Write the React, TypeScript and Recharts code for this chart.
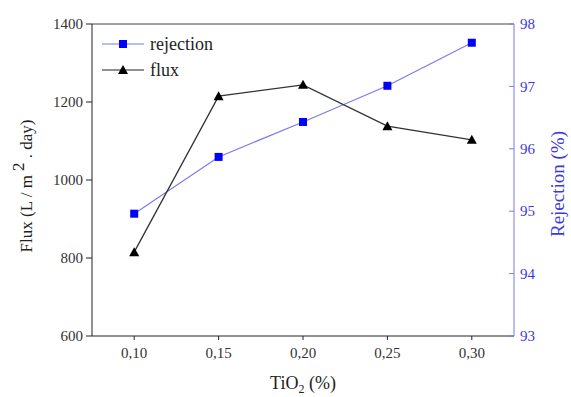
import {
  ComposedChart,
  Legend,
  Line,
  ReferenceLine,
  XAxis,
  YAxis,
} from "recharts"

const tio2 = [0.1, 0.15, 0.2, 0.25, 0.3]
const flux = [815, 1215, 1244, 1138, 1103]
const rejection = [94.96, 95.87, 96.43, 97.01, 97.7]
const xTicks = [0.1, 0.15, 0.2, 0.25, 0.3]
const fluxTicks = [600, 800, 1000, 1200, 1400]
const rejTicks = [93, 94, 95, 96, 97, 98]

const FONT = "Liberation Serif"
const serif = { fontFamily: FONT }
const BLUE = "#0000ff"
const BLUE_LINE = "#7b7bec"
const BLUE_TEXT = "#3a3adf"

const data = tio2.map((x, i) => ({ x, flux: flux[i], rejection: rejection[i] }))

function Square(props: any) {
  const { cx, cy, index } = props
  if (cx == null || cy == null) return <g key={`s-${index}`} />
  return <rect key={`s-${index}`} x={cx - 4} y={cy - 4} width={8} height={8} fill={BLUE} />
}

function Triangle(props: any) {
  const { cx, cy, index } = props
  if (cx == null || cy == null) return <g key={`t-${index}`} />
  return (
    <path
      key={`t-${index}`}
      d={`M${cx},${cy - 5} L${cx + 5},${cy + 4} L${cx - 5},${cy + 4} Z`}
      fill="#000"
    />
  )
}

function BottomTick(props: any) {
  const { x, y, payload } = props
  return (
    <text x={x} y={y} dy="0.71em" textAnchor="middle" fill="#333" fontSize={15} style={serif}>
      {Number(payload.value).toFixed(2).replace(".", ",")}
    </text>
  )
}

function LeftTick(props: any) {
  const { x, y, payload } = props
  return (
    <text x={x} y={y} dy="0.35em" textAnchor="end" fill="#333" fontSize={15} style={serif}>
      {payload.value}
    </text>
  )
}

function RightTick(props: any) {
  const { x, y, payload } = props
  return (
    <g>
      <line x1={x - 11} x2={x - 6} y1={y} y2={y} stroke={BLUE_LINE} />
      <text x={x} y={y} dy="0.35em" fill={BLUE_TEXT} fontSize={15} style={serif}>
        {payload.value}
      </text>
    </g>
  )
}

function FluxLabel(props: any) {
  const vb = props.viewBox
  const cx = vb.x + 26
  const cy = vb.y + vb.height / 2 + 6
  return (
    <text
      x={cx}
      y={cy}
      transform={`rotate(-90, ${cx}, ${cy})`}
      textAnchor="middle"
      dominantBaseline="central"
      fontSize={17}
      style={serif}
      fill="#222"
    >
      Flux (L / m
      <tspan dx={4} dy={-8}>2</tspan>
      <tspan dy={8}> . day)</tspan>
    </text>
  )
}

function RejLabel(props: any) {
  const vb = props.viewBox
  const cx = 557
  const cy = vb.y + vb.height / 2 + 4
  return (
    <text
      x={cx}
      y={cy}
      transform={`rotate(-90, ${cx}, ${cy})`}
      textAnchor="middle"
      dominantBaseline="central"
      fontSize={19}
      style={serif}
      fill={BLUE_TEXT}
    >
      Rejection (%)
    </text>
  )
}

function XLabel() {
  return (
    <text x={303} y={389} textAnchor="middle" fontSize={18} style={serif} fill="#222">
      TiO
      <tspan dy={4} fontSize={12}>2</tspan>
      <tspan dy={-4}> (%)</tspan>
    </text>
  )
}

function LegendBox() {
  const rows = [
    { name: "rejection", color: BLUE_LINE, marker: "square" },
    { name: "flux", color: "#222", marker: "triangle" },
  ]
  return (
    <svg width={140} height={56}>
      {rows.map((r, i) => {
        const y = 12 + i * 26
        return (
          <g key={r.name}>
            <line x1={2} x2={44} y1={y} y2={y} stroke={r.color} strokeWidth={1.2} />
            {r.marker === "square" ? (
              <rect x={19} y={y - 4} width={8} height={8} fill={BLUE} />
            ) : (
              <path d={`M23,${y - 5} L28,${y + 4} L18,${y + 4} Z`} fill="#000" />
            )}
            <text x={50} y={y} dy="0.32em" fontSize={18} style={serif} fill="#222">
              {r.name}
            </text>
          </g>
        )
      })}
    </svg>
  )
}

export default function App() {
  return (
    <div style={{ position: "absolute", left: 0, top: 0, background: "#fff", fontFamily: FONT }}>
      <ComposedChart
        width={571}
        height={397}
        data={data}
        margin={{ top: 24, right: 0, left: 0, bottom: 0 }}
        style={serif}
      >
        <XAxis
          dataKey="x"
          type="number"
          domain={[0.075, 0.325]}
          ticks={xTicks}
          height={61}
          tickSize={4}
          tickMargin={7}
          stroke="#222"
          tick={<BottomTick />}
          label={<XLabel />}
        />
        <YAxis
          yAxisId="flux"
          domain={[600, 1400]}
          ticks={fluxTicks}
          width={92}
          tickSize={6}
          tickMargin={3}
          stroke="#222"
          tick={<LeftTick />}
          label={<FluxLabel />}
        />
        <YAxis
          yAxisId="rej"
          orientation="right"
          domain={[93, 98]}
          ticks={rejTicks}
          width={57}
          tickSize={0}
          tickMargin={6}
          stroke={BLUE_LINE}
          tick={<RightTick />}
          label={<RejLabel />}
        />
        <ReferenceLine yAxisId="flux" y={1400} stroke="#444" />
        <Legend
          layout="vertical"
          verticalAlign="middle"
          align="center"
          content={<LegendBox />}
          wrapperStyle={{ left: 100, top: 32, width: 140 }}
        />
        <Line
          yAxisId="rej"
          dataKey="rejection"
          stroke={BLUE_LINE}
          strokeWidth={1.2}
          dot={(p: any) => <Square key={`sq-${p.index}`} {...p} />}
          isAnimationActive={false}
          legendType="none"
        />
        <Line
          yAxisId="flux"
          dataKey="flux"
          stroke="#333"
          strokeWidth={1.3}
          dot={(p: any) => <Triangle key={`tr-${p.index}`} {...p} />}
          isAnimationActive={false}
          legendType="none"
        />
      </ComposedChart>
    </div>
  )
}
